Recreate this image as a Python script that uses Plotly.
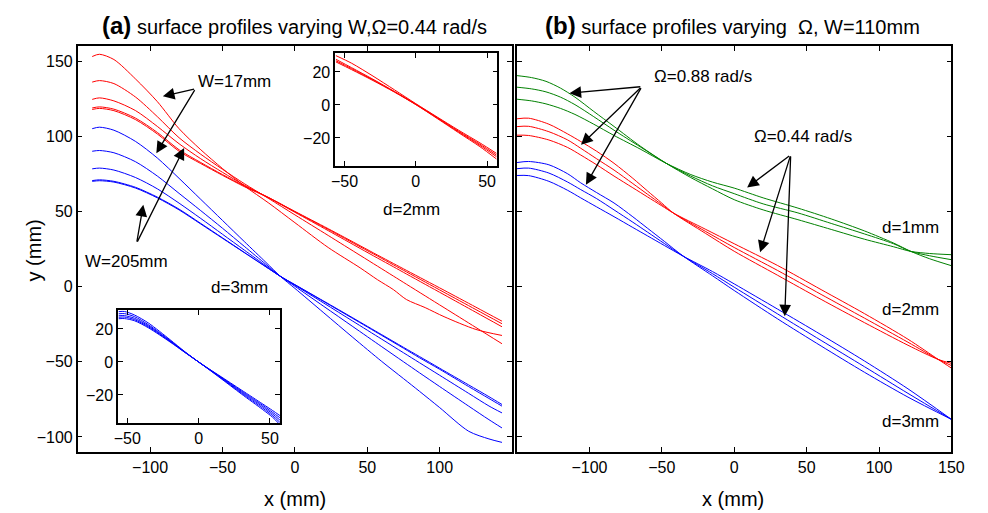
import plotly.graph_objects as go

# ---------------- data: panel (a), main axes ----------------
a_red_x = [-140, -135, -125, -110, -95, -80, -65, -50, -35, -18, 0, 23, 45, 57, 68, 77, 90, 103, 125, 143]
a_red_y1 = [153, 154.5, 151, 138, 123, 105, 91, 78.5, 67, 55.5, 42.5, 26, 12.5, 4.6, -2, -8.6, -14, -20, -28.5, -32.5]
a_red_y2 = [136, 137, 135, 126, 113, 99, 88, 78, 68.5, 58.5, 47.7, 34, 20.8, 13.6, 7, 1.6, -6.2, -14, -27.2, -38]
a_red_y3 = [124.5, 125.5, 123.5, 117, 106.5, 95, 85, 76, 67.5, 59, 49.4, 37.2, 25.4, 19, 13.2, 8.4, 1.5, -5.4, -17.1, -26.7]
a_red_y4 = [118.8, 119.5, 118, 112, 102.5, 91, 82.5, 74.5, 67, 59.2, 49.8, 38, 26.5, 20.3, 14.5, 9.8, 3, -3.8, -15.3, -24.7]
a_red_y5 = [117.8, 118.5, 117, 111, 101.5, 90, 81.8, 74, 66.5, 59, 50, 38.5, 27.2, 21, 15.4, 10.8, 4.2, -2.4, -13.7, -23]

a_blue_x = [-140, -135, -125, -110, -95, -80, -65, -50, -35, -20, -10, 0, 20, 40, 60, 75, 86, 100, 120, 134, 143]
a_blue_y1 = [105, 106, 104, 96.5, 85.5, 72, 58, 44, 30, 16.1, 6.8, -1.2, -17.5, -33.8, -49.8, -61.2, -69.6, -80.5, -96.2, -101.3, -103.6]
a_blue_y2 = [90, 90.5, 89, 83, 73.5, 62, 50.5, 38.8, 26.8, 14.8, 6.8, 0.2, -13.2, -26.6, -40, -50, -57.3, -66.5, -79.5, -88.5, -94]
a_blue_y3 = [78.3, 78.8, 77.5, 72.5, 65, 55.5, 45.3, 34.8, 24.3, 13.8, 6.8, 0.9, -11, -23, -35, -44, -50.6, -59, -71, -79.4, -84]
a_blue_y4 = [70.5, 71, 70, 66, 59.5, 51.5, 42, 32.4, 22.8, 13.2, 6.8, 1.2, -10, -21.2, -32.5, -41, -47.3, -55, -66.5, -74.4, -79.5]
a_blue_y5 = [70, 70.4, 69.5, 65.5, 59, 51, 41.6, 32.1, 22.6, 13.1, 6.8, 1.3, -9.7, -20.8, -32, -40.4, -46.5, -54.3, -65.4, -73.2, -78.4]

# ---------------- data: panel (a), insets ----------------
ins2_x = [-56, -45, -30, -15, 0, 15, 30, 45, 56.5]
ins2_y1 = [29.9, 25.3, 17.5, 9.2, 0.8, -7.3, -15.3, -23, -29.3]
ins2_y2 = [27.7, 22.6, 15.6, 8.2, 0.5, -7.6, -15.9, -23.8, -30.3]
ins2_y3 = [26.8, 22, 15.2, 8, 0.3, -7.9, -16.3, -24.5, -31.3]
ins2_y4 = [26.1, 21.4, 14.8, 7.8, 0.2, -8.2, -16.8, -25.3, -32.7]

ins3_x = [-56, -52, -45, -35, -20, -10, 0, 15, 30, 45, 52, 57]
ins3_y1 = [30.5, 30.6, 28.5, 23.5, 13.5, 6.5, 0, -8.5, -17, -25.5, -29.5, -32.5]
ins3_y2 = [29.2, 29.3, 27.5, 22.5, 13, 6.3, 0, -8.8, -17.6, -26.3, -30.6, -33.8]
ins3_y3 = [28, 28.1, 26.5, 21.8, 12.7, 6.2, 0, -9, -18.2, -27.1, -31.6, -35.2]
ins3_y4 = [27.1, 27.2, 25.7, 21.2, 12.4, 6.1, 0, -9.3, -18.8, -28, -32.6, -36.6]
ins3_y5 = [26.2, 26.3, 25, 20.6, 12.1, 6, 0, -9.6, -19.4, -28.9, -33.6, -38]

# ---------------- data: panel (b) ----------------
b_green_x = [-150, -140, -130, -120, -110, -97, -83, -65, -47, -30, -15, 0, 20, 44, 67, 90, 110, 122, 135, 150]
b_green_y1 = [140.3, 139, 136.5, 132, 126, 116.5, 106.5, 93.5, 82, 72.5, 65, 57.8, 51, 44.5, 38, 31.5, 26.5, 23.4, 22, 21.2]
b_green_y2 = [132.6, 131.5, 129.5, 126, 121, 113, 104, 93, 82, 73.5, 67, 61.8, 55, 49, 42, 35, 28.5, 23.4, 20.5, 17.9]
b_green_y3 = [124.6, 123.5, 121.5, 118.5, 114.5, 108, 100.5, 91.5, 82, 74.5, 69.5, 65.5, 59, 52.2, 45, 37, 29, 23.4, 18.5, 13.9]

b_red_x = [-150, -142, -128, -115, -106, -95, -83, -70, -60, -50, -42, -20, 0, 30, 60, 90, 120, 141, 150]
b_red_y1 = [111.6, 112, 108, 101.5, 96.5, 90, 82, 72, 63.7, 55.5, 48.9, 35.5, 23.5, 7.5, -8.5, -24, -39, -48.5, -51]
b_red_y2 = [106.4, 106.6, 103, 97.5, 92, 85, 77.5, 68.5, 61.5, 54.5, 48.9, 36.8, 26, 10.7, -5.2, -21, -37, -48.5, -52.5]
b_red_y3 = [100.7, 100.5, 97.5, 92.5, 87.5, 81, 73.5, 65.7, 59.7, 53.7, 48.9, 38.2, 28.5, 14, -2, -18, -35, -48.5, -54.2]

b_blue_x = [-150, -142, -128, -115, -106, -95, -83, -70, -60, -48, -35, -15, 0, 30, 60, 90, 120, 150]
b_blue_y1 = [82.5, 83.2, 81, 75, 69, 62.5, 55.6, 46.4, 38.9, 29.9, 20.1, 7.2, -2.6, -21.5, -39.5, -57, -73.5, -88.3]
b_blue_y2 = [78.4, 78.8, 75.5, 69.5, 64.5, 58.5, 51, 42.8, 36.3, 28.5, 20.1, 8.6, -0.4, -18.2, -35.8, -53.3, -71, -88.3]
b_blue_y3 = [73.9, 73.8, 70, 64, 59, 53, 46.5, 39.3, 33.8, 27.2, 20.1, 10, 1.8, -15, -32, -49.5, -68, -88.3]

main_xrange = [-150, 150]
main_yrange = [-110, 160]
main_yticks = [-100, -50, 0, 50, 100, 150]
a_xticks = [-100, -50, 0, 50, 100]
b_xticks = [-100, -50, 0, 50, 100, 150]
ins_xrange = [-56.5, 57.2]
ins_yrange = [-37, 31.5]
ins_xticks = [-50, 0, 50]
ins_yticks = [-20, 0, 20]

RED = "#ff0000"
BLUE = "#0000ff"
GREEN = "#008000"
FONT = "Liberation Sans, Arial, sans-serif"

fig = go.Figure()


def add_lines(x, ys, color, xa, ya):
    for y in ys:
        fig.add_trace(go.Scatter(x=x, y=y, mode="lines", xaxis=xa, yaxis=ya,
                                 line=dict(color=color, width=1, shape="spline", smoothing=0.8),
                                 showlegend=False, hoverinfo="skip"))


add_lines(a_red_x, [a_red_y1, a_red_y2, a_red_y3, a_red_y4, a_red_y5], RED, "x", "y")
add_lines(a_blue_x, [a_blue_y1, a_blue_y2, a_blue_y3, a_blue_y4, a_blue_y5], BLUE, "x", "y")
add_lines(b_green_x, [b_green_y1, b_green_y2, b_green_y3], GREEN, "x2", "y2")
add_lines(b_red_x, [b_red_y1, b_red_y2, b_red_y3], RED, "x2", "y2")
add_lines(b_blue_x, [b_blue_y1, b_blue_y2, b_blue_y3], BLUE, "x2", "y2")
add_lines(ins2_x, [ins2_y1, ins2_y2, ins2_y3, ins2_y4], RED, "x3", "y3")
add_lines(ins3_x, [ins3_y1, ins3_y2, ins3_y3, ins3_y4, ins3_y5], BLUE, "x4", "y4")

FW, FH = 988, 513


def px_x(p):
    return p / FW


def px_y(p):
    return 1 - p / FH


def dx(a, b):
    return [px_x(a), px_x(b)]


def dy(top, bottom):
    return [px_y(bottom), px_y(top)]


axis_common = dict(showline=True, linecolor="black", linewidth=1.5, mirror="ticks",
                   ticks="inside", ticklen=5, tickwidth=1, tickcolor="black",
                   showgrid=False, zeroline=False,
                   tickfont=dict(family=FONT, size=16, color="black"))

fig.update_layout(
    width=FW, height=FH, autosize=False,
    margin=dict(l=0, r=0, t=0, b=0),
    paper_bgcolor="white", plot_bgcolor="white",
    xaxis=dict(domain=dx(75, 517), range=main_xrange, tickvals=a_xticks, anchor="y", **axis_common),
    yaxis=dict(domain=dy(46, 452), range=main_yrange, tickvals=main_yticks, anchor="x", **axis_common),
    xaxis2=dict(domain=dx(522, 964), range=main_xrange, tickvals=b_xticks, anchor="y2", **axis_common),
    yaxis2=dict(domain=dy(46, 452), range=main_yrange, tickvals=main_yticks, anchor="x2",
                showticklabels=False, **axis_common),
    xaxis3=dict(domain=dx(337, 502), range=ins_xrange, tickvals=ins_xticks, anchor="y3", **axis_common),
    yaxis3=dict(domain=dy(53, 166), range=ins_yrange, tickvals=ins_yticks, anchor="x3", **axis_common),
    xaxis4=dict(domain=dx(116, 281), range=ins_xrange, tickvals=ins_xticks, anchor="y4", **axis_common),
    yaxis4=dict(domain=dy(310, 423), range=ins_yrange, tickvals=ins_yticks, anchor="x4", **axis_common),
)

ann = []
txt_font = dict(family=FONT, size=17, color="black")

# titles
ann.append(dict(xref="paper", yref="paper", x=px_x(296), y=px_y(25), xanchor="center", yanchor="middle",
                showarrow=False,
                text="<span style='font-size:24px'><b>(a)</b></span> surface profiles varying W,\u03a9=0.44 rad/s",
                font=dict(family=FONT, size=20, color="black")))
ann.append(dict(xref="paper", yref="paper", x=px_x(741), y=px_y(25), xanchor="center", yanchor="middle",
                showarrow=False,
                text="<span style='font-size:24px'><b>(b)</b></span> surface profiles varying\u00a0 \u03a9, W=110mm",
                font=dict(family=FONT, size=20, color="black")))
# axis titles
ann.append(dict(xref="paper", yref="paper", x=px_x(296), y=px_y(499), xanchor="center", yanchor="middle",
                showarrow=False, text="x (mm)", font=dict(family=FONT, size=20, color="black")))
ann.append(dict(xref="paper", yref="paper", x=px_x(742), y=px_y(499), xanchor="center", yanchor="middle",
                showarrow=False, text="x (mm)", font=dict(family=FONT, size=20, color="black")))
ann.append(dict(xref="paper", yref="paper", x=px_x(31), y=px_y(250), xanchor="center", yanchor="middle",
                showarrow=False, text="y (mm)", textangle=-90, font=dict(family=FONT, size=20, color="black")))


def label(text, x, y, xr, yr):
    ann.append(dict(xref=xr, yref=yr, x=x, y=y, text=text, showarrow=False,
                    xanchor="center", yanchor="middle", font=txt_font))


def arrow(tail, head, xr, yr):
    ann.append(dict(xref=xr, yref=yr, axref=xr, ayref=yr, x=head[0], y=head[1], ax=tail[0], ay=tail[1],
                    text="", showarrow=True, arrowhead=2, arrowsize=1.8, arrowwidth=1.3,
                    arrowcolor="black", standoff=0, startstandoff=0))


# panel (a) labels
label("W=17mm", -41.5, 136.3, "x", "y")
arrow((-68.6, 131.6), (-91.2, 126.5), "x", "y")
arrow((-68.6, 131.6), (-95.7, 88.7), "x", "y")
label("W=205mm", -116, 16.4, "x", "y")
arrow((-109.3, 28.9), (-104.7, 54.5), "x", "y")
arrow((-109.3, 28.9), (-76.5, 92.2), "x", "y")
label("d=3mm", -38, -0.9, "x", "y")
label("d=2mm", 80.8, 51, "x", "y")

# panel (b) labels
label("\u03a9=0.88 rad/s", -21.8, 139.5, "x2", "y2")
arrow((-63.8, 133), (-113.8, 128.6), "x2", "y2")
arrow((-63.8, 133), (-105.8, 94.3), "x2", "y2")
arrow((-63.8, 133), (-102.4, 67.7), "x2", "y2")
label("\u03a9=0.44 rad/s", 47.7, 99.6, "x2", "y2")
arrow((39, 87.6), (8.9, 65.9), "x2", "y2")
arrow((39, 87.6), (17.9, 22.8), "x2", "y2")
arrow((39, 87.6), (34.9, -19.8), "x2", "y2")
label("d=1mm", 121.9, 39, "x2", "y2")
label("d=2mm", 121.9, -15.5, "x2", "y2")
label("d=3mm", 121.9, -89.9, "x2", "y2")

fig.update_layout(annotations=ann)
# remove the default page margin and size the figure to the actual window
post = ("document.body.style.margin='0';document.body.style.overflow='hidden';"
        "var gd=document.getElementById('{plot_id}');"
        "Plotly.relayout(gd,{width:window.innerWidth,height:window.innerHeight});")
fig.write_html("out.html", config={"displayModeBar": False}, post_script=post)
